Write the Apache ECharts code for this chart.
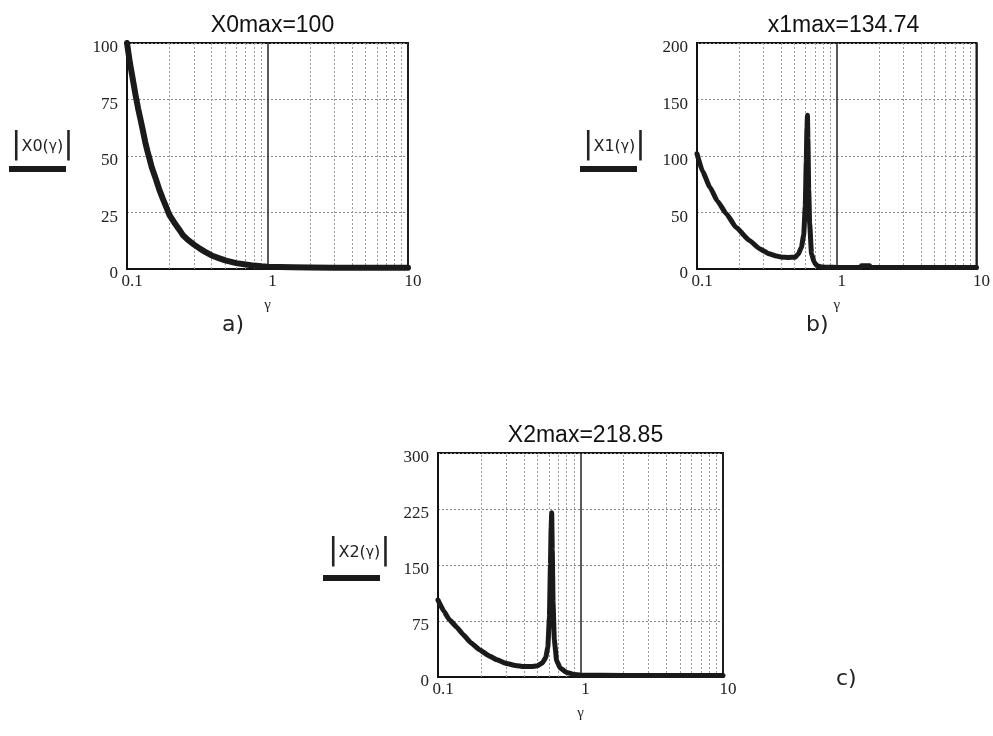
<!DOCTYPE html>
<html>
<head>
<meta charset="utf-8">
<script src="https://cdn.jsdelivr.net/npm/echarts@6/dist/echarts.min.js"></script>
<style>
html,body{margin:0;padding:0;background:#fff;}
#chart{width:993px;height:736px;}
</style>
</head>
<body>
<div id="chart"></div>
<script>
// ---- data ----
const gammaA = [0.1,0.105,0.11,0.115,0.12,0.125,0.13,0.135,0.14,0.145,0.15,0.16,0.17,0.18,0.19,0.2,0.21,0.22,0.235,0.25,0.27,0.3,0.33,0.36,0.4,0.45,0.5,0.6,0.7,0.8,0.9,1,1.5,2,3,5,7,10];
const x0Values = [100,91,84,77,71,66,61,56,52,48.5,45,40,35,31,27.5,24,22,20,17.5,15,13,10.8,9,7.6,6,4.8,3.8,2.6,2,1.5,1.2,1,0.8,0.7,0.6,0.5,0.5,0.5];

const gammaB = [0.1,0.11,0.1235,0.14,0.162,0.19,0.237,0.28,0.327,0.37,0.406,0.45,0.503,0.53,0.558,0.58,0.595,0.605,0.612,0.617,0.622,0.63,0.64,0.66,0.69,0.72,0.78,0.9,1,1.3,1.48,1.5,1.72,1.74,2,3,5,10];
const x1Values = [102,86,72.6,60,49,37,25.3,18,13.5,11.5,10.5,10.2,10.5,13,19,30,55,95,125,136,115,70,40,13.5,6,3,1.8,1.5,1.4,1.4,1.4,2.8,2.8,1.4,1.4,1.3,1.3,1.3];

const gammaC = [0.1,0.11,0.12,0.135,0.15,0.17,0.197,0.23,0.26,0.303,0.35,0.4,0.45,0.5,0.54,0.57,0.59,0.605,0.615,0.622,0.628,0.634,0.642,0.655,0.68,0.72,0.8,0.9,1,2,5,10];
const x2Values = [103,88,77,67,57,46,36,28,23,18,15.5,14,14,15,19,26,40,80,150,200,220,170,100,50,22,12,6,3.5,2.5,2,2,2];

const minorGridGamma = [0.2,0.3,0.4,0.5,0.6,0.7,0.8,0.9,2,3,4,5,6,7,8,9];
const xTickLabels = ['0.1','1','10'];
const yMaxes = [100,200,300];
const yIntervals = [25,50,75];
const titles = ['X0max=100','x1max=134.74','X2max=218.85'];
const seriesNames = ['X0','X1','X2'];
const panelLetters = ['a)','b)','c)'];

// ---- layout / style ----
const grids = [
  {left:127, top:43, width:281, height:226},
  {left:697, top:43, width:283, height:226},
  {left:438, top:453, width:285, height:224}
];
const serif = 'Liberation Serif';
const sans = 'Liberation Sans';
const lineWidths = [6,5,5];
const smoothing = [false,0.15,0.1];

const pairs = (xs, ys) => xs.map((x,i)=>[x, ys[i]]);
const dataSets = [pairs(gammaA,x0Values), pairs(gammaB,x1Values), pairs(gammaC,x2Values)];

const option = {
  backgroundColor:'#fff',
  animation:false,
  title: grids.map((g,i)=>({
    text: titles[i],
    left: g.left + g.width/2,
    top: g.top - 34,
    textAlign:'center',
    textStyle:{fontFamily:sans, fontSize:23, fontWeight:'normal', color:'#111'}
  })),
  grid: grids.map(g=>({left:g.left, top:g.top, width:g.width, height:g.height,
    show:true, borderColor:'#111', borderWidth:2, backgroundColor:'transparent'})),
  xAxis: grids.map((g,i)=>({
    type:'log', logBase:10, gridIndex:i, min:0.1, max:10,
    name:'γ', nameLocation:'middle', nameGap:29,
    nameTextStyle:{fontFamily:serif, fontSize:15, color:'#222'},
    axisLine:{show:true, onZero:false, lineStyle:{color:'#111', width:2}},
    axisTick:{show:false},
    axisLabel:{
      fontFamily:serif, fontSize:17, color:'#222', margin:4, padding:[0,0,0,10],
      formatter:(v)=>{
        const s = parseFloat(Number(v).toPrecision(3)).toString();
        return xTickLabels.indexOf(s) >= 0 ? s : '';
      }
    },
    splitLine:{show:true, lineStyle:{color:'#222', width:1.5, type:'solid'}}
  })),
  yAxis: grids.map((g,i)=>({
    type:'value', gridIndex:i, min:0, max:yMaxes[i], interval:yIntervals[i],
    axisLine:{show:true, lineStyle:{color:'#111', width:2}},
    axisTick:{show:false},
    axisLabel:{fontFamily:serif, fontSize:17, color:'#222', margin:9, verticalAlign:'top', lineHeight:10},
    splitLine:{show:true, lineStyle:{color:'#888', width:1, type:[2,2]}}
  })),
  legend: grids.map((g,i)=>({
    data:[{name:seriesNames[i], icon:'rect'}],
    left: [9,580,323][i],
    top: [166,166,575][i],
    itemWidth:57, itemHeight:6, padding:0,
    formatter:()=> '',
    textStyle:{fontSize:1},
    selectedMode:false
  })),
  graphic: [
    ...grids.map((g,i)=>({
      type:'text',
      left:[11,583,328][i],
      top:[129,129,535][i],
      style:{
        text:'{b||}{t|X'+i+'(}{g|γ}{t|)}{b||}',
        rich:{
          b:{fontFamily:'DejaVu Sans', fontSize:31, fill:'#222', fontWeight:'normal'},
          t:{fontFamily:'DejaVu Sans', fontSize:16, fill:'#222', padding:[4,0,0,0]},
          g:{fontFamily:'DejaVu Sans', fontSize:14, fill:'#222', padding:[4,0,0,0]}
        }
      }
    })),
    ...grids.map((g,i)=>({
      type:'text',
      left:[222,806,836][i],
      top:[314,314,668][i],
      style:{text:panelLetters[i], fontFamily:'DejaVu Sans', fontSize:22, fill:'#222'}
    }))
  ],
  series: grids.map((g,i)=>({
    name: seriesNames[i],
    type:'line',
    xAxisIndex:i, yAxisIndex:i,
    data: dataSets[i],
    showSymbol:false, symbol:'none',
    smooth: smoothing[i], smoothMonotone:'x',
    lineStyle:{color:'#1a1a1a', width:lineWidths[i], cap:'round', join:'round'},
    itemStyle:{color:'#1a1a1a'},
    z:5,
    markLine:{
      silent:true, symbol:'none', animation:false,
      label:{show:false},
      lineStyle:{color:'#999', width:1, type:[2,2]},
      data: minorGridGamma.map(v=>({xAxis:v}))
    }
  }))
};

const chart = echarts.init(document.getElementById('chart'), null, {renderer:'canvas'});
chart.setOption(option);
</script>
</body>
</html>
